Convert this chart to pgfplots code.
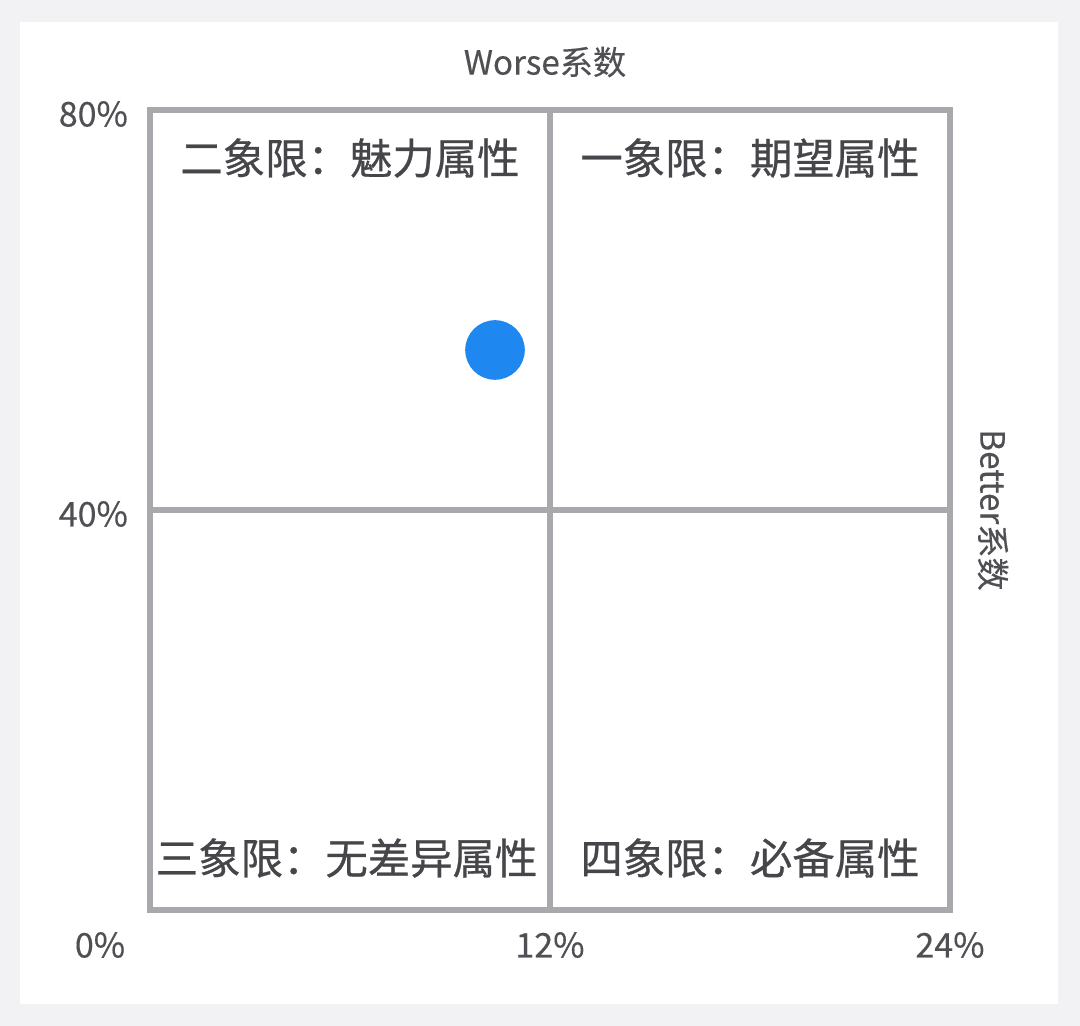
\documentclass[border=0pt]{standalone}
\usepackage{pgfplots}
\pgfplotsset{compat=1.18}
\usepackage{fontspec}
\setmainfont{Noto Sans CJK SC}
\newfontfamily\qfont[FakeBold=0.6]{Noto Sans CJK SC}
\newfontfamily\lfont[FakeBold=0.3]{Noto Sans CJK SC}
\definecolor{bgout}{RGB}{242,242,244}
\definecolor{linec}{RGB}{169,169,173}
\definecolor{txt}{RGB}{80,80,84}
\definecolor{qtxt}{RGB}{70,70,74}
\definecolor{dotc}{RGB}{30,136,240}
\begin{document}
\begin{tikzpicture}
\fill[bgout] (0,0) rectangle (270pt,256.5pt);
\fill[white] (5pt,5.5pt) rectangle (264.5pt,251pt);
\begin{axis}[
  at={(37.5pt,29pt)}, anchor=south west,
  width=200pt, height=200pt, scale only axis,
  xmin=0, xmax=24, ymin=0, ymax=80,
  xtick={12,24}, ytick={40,80},
  xticklabels={12\%,24\%}, yticklabels={40\%,80\%},
  major tick length=0pt,
  grid=major,
  grid style={linec, line width=1.6pt},
  axis line style={linec, line width=1.6pt},
  tick label style={font=\lfont\fontsize{8.5}{10}\selectfont, text=txt},
  xticklabel style={yshift=-2pt},
  yticklabel style={xshift=-2pt, yshift=-1pt},
  clip=false,
]
\addplot[only marks, mark=*, mark size=7.25pt, mark options={draw=dotc, fill=dotc}] coordinates {(10.35,56)};
\node[font=\qfont\fontsize{10.6}{12}\selectfont, text=qtxt] at (axis cs:6,75.2) {二象限：魅力属性};
\node[font=\qfont\fontsize{10.6}{12}\selectfont, text=qtxt] at (axis cs:18,75.2) {一象限：期望属性};
\node[font=\qfont\fontsize{10.6}{12}\selectfont, text=qtxt] at (axis cs:5.9,5.2) {三象限：无差异属性};
\node[font=\qfont\fontsize{10.6}{12}\selectfont, text=qtxt] at (axis cs:18,5.2) {四象限：必备属性};
\node[font=\lfont\fontsize{8.5}{10}\selectfont, text=txt, anchor=north] at (axis cs:-1.5,0) [yshift=-2pt] {0\%};
\end{axis}
\node[font=\lfont\fontsize{8.3}{10}\selectfont, text=txt] at (136.25pt,241pt) {Worse系数};
\node[font=\lfont\fontsize{8.3}{10}\selectfont, text=txt, rotate=-90] at (248.25pt,129pt) {Better系数};
\end{tikzpicture}
\end{document}
